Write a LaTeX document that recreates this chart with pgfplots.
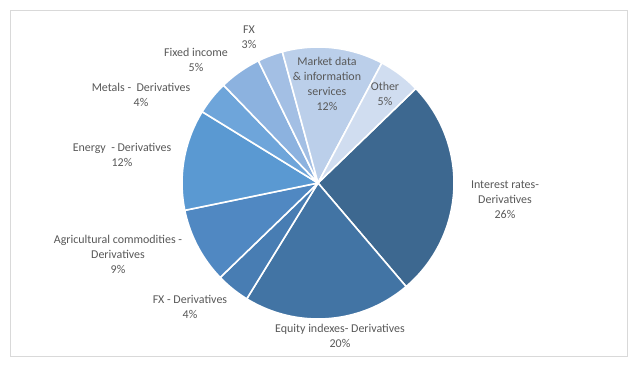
\documentclass[border=0pt]{standalone}
\usepackage{pgfplots}
\pgfplotsset{compat=1.18}
\usepackage{fontspec}
\setmainfont{Carlito}
\definecolor{cInt}{HTML}{3D6890}
\definecolor{cEq}{HTML}{4274A4}
\definecolor{cFXd}{HTML}{487DB3}
\definecolor{cAgr}{HTML}{5088C2}
\definecolor{cEne}{HTML}{5A99D2}
\definecolor{cMet}{HTML}{6EA5DA}
\definecolor{cFix}{HTML}{8CB2DF}
\definecolor{cFX}{HTML}{A3BFE4}
\definecolor{cMkt}{HTML}{BBCFEA}
\definecolor{cOth}{HTML}{D0DDF0}
\definecolor{txt}{HTML}{595959}
\definecolor{frame}{HTML}{D9D9D9}
\def\cur{44}
\newcommand\slice[2]{%
  \pgfmathsetmacro\sa{\cur}%
  \pgfmathsetmacro\sb{\cur-3.6*#2}%
  \edef\doit{\noexpand\addplot[data cs=polar,fill=#1,draw=white,line width=1.6bp,line join=round,domain=\sb:\sa,samples=80] ({x},{1}) -- (axis cs:0,0) -- cycle;}%
  \doit
  \global\let\cur\sb}
\begin{document}
\begin{tikzpicture}[x=1bp,y=1bp]
\useasboundingbox[fill=white] (0,0) rectangle (638,367);
\draw[frame,line width=1bp] (10.5,10.5) rectangle (627.5,356.5);
\begin{axis}[
  at={(318bp,184bp)}, anchor=center,
  scale only axis, width=272bp, height=272bp,
  xmin=-1, xmax=1, ymin=-1, ymax=1, hide axis, clip=false]
\slice{cInt}{26}
\slice{cEq}{20}
\slice{cFXd}{4}
\slice{cAgr}{9}
\slice{cEne}{12}
\slice{cMet}{4}
\slice{cFix}{5}
\slice{cFX}{3}
\slice{cMkt}{12}
\slice{cOth}{5}
\end{axis}
\begin{scope}[every node/.style={text=txt,font=\fontsize{12}{15}\selectfont,align=center,inner sep=0pt}]
\node at (249,367-37) {FX\\3\%};
\node at (196,367-60) {Fixed income\\5\%};
\node at (141,367-95) {Metals -\ \ Derivatives\\4\%};
\node at (122,367-155) {Energy\ \ - Derivatives\\12\%};
\node at (118,367-254) {Agricultural commodities -\\Derivatives\\9\%};
\node at (190,367-307) {FX - Derivatives\\4\%};
\node at (340,367-336) {Equity indexes- Derivatives\\20\%};
\node at (505,367-200) {Interest rates-\\Derivatives\\26\%};
\node at (327,367-84) {Market data\\\& information\\services\\12\%};
\node at (385,367-94) {Other\\5\%};
\end{scope}
\end{tikzpicture}
\end{document}
